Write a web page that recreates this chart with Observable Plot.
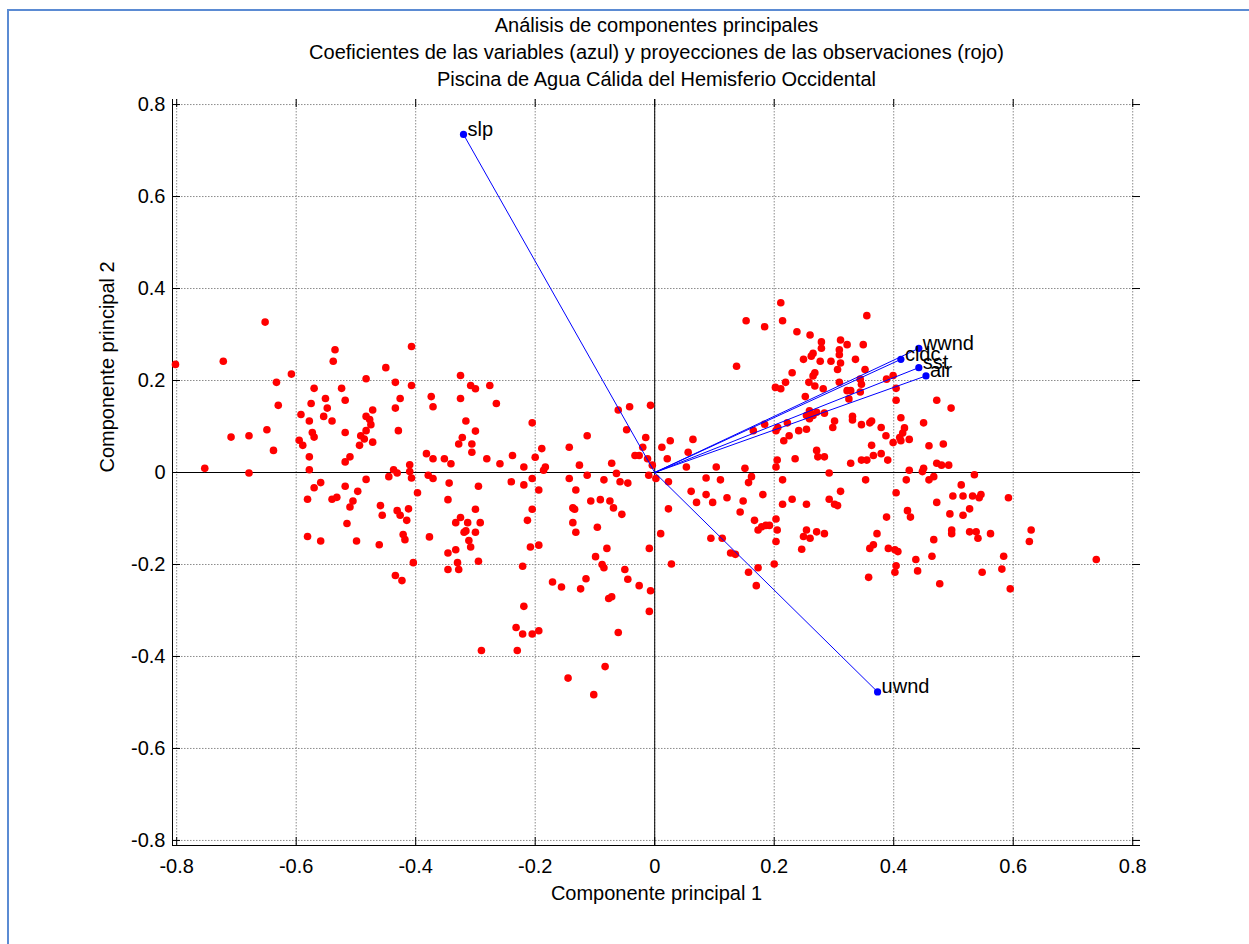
<!DOCTYPE html>
<html>
<head>
<meta charset="utf-8">
<script src="https://cdn.jsdelivr.net/npm/d3@7"></script>
<script src="https://cdn.jsdelivr.net/npm/@observablehq/plot@0.6"></script>
<style>
  html, body { margin: 0; padding: 0; background: #ffffff; }
  #wrap { position: relative; width: 1249px; height: 944px; overflow: hidden; }
  #border { position: absolute; left: 7px; top: 9px; width: 2000px; height: 2000px;
            border-left: 2px solid #5b8bd3; border-top: 2px solid #5b8bd3; pointer-events: none; }
  svg { display: block; }
</style>
</head>
<body>
<div id="wrap"><div id="border"></div></div>
<script>
// ---- Data ----
const titleLines = [
  "Análisis de componentes principales",
  "Coeficientes de las variables (azul) y proyecciones de las observaciones (rojo)",
  "Piscina de Agua Cálida del Hemisferio Occidental"
];
const xLabel = "Componente principal 1";
const yLabel = "Componente principal 2";
const tickValues = [-0.8, -0.6, -0.4, -0.2, 0, 0.2, 0.4, 0.6, 0.8];

// variable coefficients (blue)
const varNames = ["air", "cldc", "slp", "sst", "uwnd", "wwnd"];
const varPC1 = [0.454, 0.412, -0.320, 0.442, 0.373, 0.442];
const varPC2 = [0.210, 0.246, 0.735, 0.228, -0.477, 0.270];

// observation projections (red) [PC1, PC2]
const obsPC = [
[-0.802,0.235],[-0.652,0.327],[-0.722,0.242],[-0.608,0.214],[-0.633,0.196],[-0.630,0.146],[-0.649,0.093],[-0.709,0.077],[-0.679,0.080],[-0.638,0.048],[-0.753,0.009],[-0.679,-0.001],[-0.535,0.267],[-0.538,0.242],[-0.407,0.274],[-0.450,0.228],[-0.483,0.204],[-0.434,0.196],[-0.407,0.189],[-0.570,0.183],[-0.524,0.183],[-0.551,0.161],[-0.518,0.157],[-0.426,0.161],[-0.575,0.150],[-0.548,0.140],[-0.434,0.140],[-0.472,0.136],[-0.592,0.126],[-0.554,0.122],[-0.483,0.122],[-0.477,0.115],[-0.578,0.112],[-0.540,0.112],[-0.475,0.104],[-0.483,0.091],[-0.429,0.091],[-0.573,0.087],[-0.518,0.087],[-0.492,0.080],[-0.570,0.077],[-0.486,0.073],[-0.595,0.070],[-0.472,0.066],[-0.589,0.059],[-0.494,0.059],[-0.578,0.034],[-0.510,0.034],[-0.518,0.023],[-0.578,0.006],[-0.410,0.017],[-0.437,0.006],[-0.431,-0.001],[-0.410,0.002],[-0.445,-0.009],[-0.407,-0.012],[-0.483,-0.015],[-0.559,-0.022],[-0.570,-0.033],[-0.518,-0.030],[-0.497,-0.041],[-0.397,-0.044],[-0.581,-0.058],[-0.540,-0.058],[-0.532,-0.054],[-0.505,-0.062],[-0.510,-0.075],[-0.459,-0.072],[-0.456,-0.093],[-0.431,-0.083],[-0.426,-0.093],[-0.412,-0.079],[-0.415,-0.104],[-0.515,-0.111],[-0.581,-0.139],[-0.559,-0.149],[-0.499,-0.149],[-0.461,-0.157],[-0.421,-0.135],[-0.418,-0.146],[-0.404,-0.196],[-0.434,-0.224],[-0.423,-0.235],
[-0.374,0.165],[-0.371,0.143],[-0.325,0.211],[-0.308,0.189],[-0.300,0.182],[-0.276,0.189],[-0.325,0.161],[-0.265,0.150],[-0.316,0.112],[-0.300,0.090],[-0.322,0.076],[-0.328,0.062],[-0.306,0.062],[-0.306,0.044],[-0.382,0.041],[-0.371,0.030],[-0.352,0.030],[-0.341,0.019],[-0.281,0.030],[-0.259,0.019],[-0.238,0.037],[-0.219,0.012],[-0.205,0.108],[-0.189,0.052],[-0.200,0.033],[-0.183,0.012],[-0.186,0.005],[-0.379,-0.006],[-0.371,-0.013],[-0.344,-0.023],[-0.295,-0.030],[-0.240,-0.020],[-0.219,-0.027],[-0.205,-0.013],[-0.194,-0.038],[-0.346,-0.059],[-0.300,-0.080],[-0.325,-0.098],[-0.333,-0.109],[-0.313,-0.109],[-0.292,-0.109],[-0.316,-0.127],[-0.319,-0.130],[-0.300,-0.130],[-0.311,-0.148],[-0.308,-0.162],[-0.333,-0.168],[-0.346,-0.175],[-0.377,-0.140],[-0.330,-0.196],[-0.346,-0.211],[-0.328,-0.211],[-0.295,-0.193],[-0.205,-0.080],[-0.213,-0.104],[-0.208,-0.162],[-0.194,-0.158],[-0.221,-0.204],[-0.219,-0.291],[-0.232,-0.337],[-0.221,-0.351],[-0.205,-0.351],[-0.194,-0.344],[-0.230,-0.387],[-0.290,-0.387],[-0.143,0.055],[-0.113,0.080],[-0.126,0.016],[-0.113,-0.006],[-0.143,-0.013],[-0.132,-0.038],[-0.085,-0.016],[-0.072,0.020],[-0.064,-0.002],[-0.058,-0.020],[-0.045,-0.023],[-0.061,0.136],[-0.042,0.143],[-0.007,0.146],[-0.047,0.093],[-0.015,0.076],[-0.020,0.055],[-0.033,0.037],[-0.026,0.037],[-0.012,0.030],[-0.004,0.016],[-0.010,-0.006],[0.002,-0.013],[-0.107,-0.062],[-0.091,-0.059],[-0.075,-0.062],[-0.069,-0.077],[-0.055,-0.091],[-0.137,-0.077],[-0.134,-0.080],[-0.137,-0.109],[-0.132,-0.130],[-0.096,-0.119],[-0.080,-0.165],[-0.099,-0.183],[-0.088,-0.200],[-0.085,-0.207],[-0.050,-0.211],[-0.045,-0.232],[-0.026,-0.246],[-0.007,-0.257],[-0.009,-0.165],[-0.009,-0.302],[0.010,-0.133],[-0.171,-0.238],[-0.156,-0.249],[-0.124,-0.253],[-0.115,-0.231],[-0.077,-0.274],[-0.072,-0.270],[-0.061,-0.348],[-0.083,-0.422],[-0.145,-0.447],[-0.102,-0.483],
[0.211,0.369],[0.214,0.330],[0.153,0.330],[0.184,0.317],[0.355,0.341],[0.238,0.306],[0.260,0.299],[0.279,0.284],[0.311,0.288],[0.322,0.278],[0.349,0.278],[0.279,0.270],[0.309,0.267],[0.309,0.256],[0.265,0.259],[0.262,0.253],[0.249,0.246],[0.277,0.242],[0.295,0.242],[0.311,0.238],[0.336,0.246],[0.137,0.231],[0.306,0.224],[0.352,0.224],[0.230,0.217],[0.268,0.217],[0.265,0.210],[0.258,0.196],[0.268,0.188],[0.219,0.196],[0.202,0.185],[0.211,0.182],[0.282,0.182],[0.309,0.196],[0.344,0.203],[0.346,0.192],[0.322,0.178],[0.328,0.178],[0.344,0.175],[0.325,0.160],[0.388,0.203],[0.252,0.165],[0.259,0.134],[0.254,0.124],[0.265,0.124],[0.259,0.117],[0.271,0.131],[0.284,0.129],[0.331,0.122],[0.331,0.114],[0.301,0.112],[0.298,0.098],[0.346,0.104],[0.360,0.108],[0.363,0.112],[0.379,0.098],[0.387,0.080],[0.363,0.059],[0.184,0.105],[0.222,0.108],[0.206,0.098],[0.203,0.091],[0.165,0.091],[0.241,0.091],[0.254,0.094],[0.225,0.080],[0.216,0.069],[0.271,0.048],[0.273,0.034],[0.284,0.034],[0.235,0.030],[0.328,0.020],[0.346,0.027],[0.355,0.027],[0.366,0.037],[0.379,0.041],[0.390,0.027],[0.205,0.027],[0.203,0.012],[0.151,0.009],[0.103,0.012],[0.053,0.012],[0.056,0.044],[0.021,0.030],[0.012,0.055],[0.026,0.069],[0.064,0.072],[0.023,-0.020],[0.086,-0.012],[0.110,-0.016],[0.157,-0.022],[0.162,-0.009],[0.214,-0.016],[0.292,-0.001],[0.353,-0.016],[0.061,-0.041],[0.086,-0.048],[0.070,-0.065],[0.097,-0.065],[0.121,-0.055],[0.148,-0.062],[0.181,-0.048],[0.230,-0.058],[0.254,-0.069],[0.292,-0.058],[0.301,-0.069],[0.306,-0.072],[0.311,-0.041],[0.214,-0.069],[0.023,-0.079],[0.143,-0.086],[0.167,-0.104],[0.173,-0.125],[0.179,-0.118],[0.186,-0.115],[0.192,-0.115],[0.203,-0.101],[0.205,-0.125],[0.203,-0.150],[0.254,-0.125],[0.271,-0.129],[0.284,-0.133],[0.249,-0.139],[0.260,-0.143],[0.246,-0.167],[0.094,-0.143],[0.113,-0.143],[0.127,-0.175],[0.135,-0.178],[0.028,-0.199],[0.173,-0.207],[0.157,-0.217],[0.200,-0.199],[0.170,-0.246],[0.388,-0.097],[0.372,-0.133],[0.366,-0.157],[0.360,-0.165],[0.391,-0.165],[0.358,-0.228],
[0.399,0.211],[0.404,0.183],[0.404,0.157],[0.472,0.157],[0.496,0.140],[0.450,0.108],[0.412,0.119],[0.418,0.097],[0.410,0.076],[0.412,0.069],[0.426,0.072],[0.399,0.065],[0.415,0.086],[0.459,0.058],[0.483,0.062],[0.426,0.005],[0.448,0.002],[0.450,0.009],[0.472,0.020],[0.480,0.016],[0.492,0.016],[0.421,-0.016],[0.459,-0.016],[0.467,-0.009],[0.535,-0.005],[0.513,-0.027],[0.404,-0.044],[0.499,-0.051],[0.516,-0.051],[0.532,-0.051],[0.543,-0.055],[0.546,-0.048],[0.592,-0.055],[0.472,-0.065],[0.423,-0.083],[0.428,-0.097],[0.494,-0.090],[0.516,-0.093],[0.527,-0.079],[0.497,-0.125],[0.497,-0.133],[0.527,-0.129],[0.538,-0.129],[0.541,-0.143],[0.562,-0.133],[0.467,-0.146],[0.402,-0.168],[0.407,-0.172],[0.464,-0.182],[0.437,-0.189],[0.584,-0.182],[0.630,-0.125],[0.627,-0.150],[0.739,-0.189],[0.404,-0.203],[0.402,-0.217],[0.440,-0.214],[0.548,-0.217],[0.581,-0.210],[0.477,-0.242],[0.595,-0.253]
];

// ---- Build tables ----
const vars = varNames.map((n, i) => ({name: n, x: varPC1[i], y: varPC2[i]}));
const obs = obsPC.map(([x, y]) => ({x, y}));

const fmt = d => Math.abs(d) < 1e-9 ? "0" : d.toFixed(1);
const FONT = "'Liberation Sans', Arial, Helvetica, sans-serif";

const xDomain = [-0.807, 0.813];
const yDomain = [-0.811, 0.811];
const frameW = 1249 - 172 - 109;
const frameH = 944 - 99 - 99;
const TL = 8; // tick length (px)

const chart = Plot.plot({
  width: 1249,
  height: 944,
  marginLeft: 172,
  marginRight: 109,
  marginTop: 99,
  marginBottom: 99,
  style: {fontFamily: FONT, fontSize: "20px", color: "#000", background: "#fff"},
  x: {domain: xDomain, ticks: tickValues},
  y: {domain: yDomain, ticks: tickValues},
  marks: [
    // grid
    Plot.gridX(tickValues, {stroke: "#8c8c8c", strokeOpacity: 1, strokeDasharray: "1.5,1.5", strokeWidth: 1}),
    Plot.gridY(tickValues, {stroke: "#8c8c8c", strokeOpacity: 1, strokeDasharray: "1.5,1.5", strokeWidth: 1}),
    // inward ticks on all four sides
    Plot.tickX(tickValues, {x: d => d, insetTop: frameH - TL, stroke: "#000"}),
    Plot.tickX(tickValues, {x: d => d, insetBottom: frameH - TL, stroke: "#000"}),
    Plot.tickY(tickValues, {y: d => d, insetRight: frameW - TL, stroke: "#000"}),
    Plot.tickY(tickValues, {y: d => d, insetLeft: frameW - TL, stroke: "#000"}),
    // axis lines (left and bottom)
    Plot.ruleX([xDomain[0]], {stroke: "#000"}),
    Plot.ruleY([yDomain[0]], {stroke: "#000"}),
    // tick labels
    Plot.axisX(tickValues, {tickSize: 0, tickPadding: 13, tickFormat: fmt, fontSize: 20, label: null}),
    Plot.axisY(tickValues, {tickSize: 0, tickPadding: 7, tickFormat: fmt, fontSize: 20, label: null}),
    // crosshair through origin
    Plot.ruleX([0], {stroke: "#000", strokeWidth: 1}),
    Plot.ruleY([0], {stroke: "#000", strokeWidth: 1}),
    // observations
    Plot.dot(obs, {x: "x", y: "y", r: 3.8, fill: "#ff0000", stroke: "none"}),
    // variable vectors
    Plot.link(vars, {x1: () => 0, y1: () => 0, x2: "x", y2: "y", stroke: "#0000ff", strokeWidth: 1}),
    Plot.dot(vars, {x: "x", y: "y", r: 3.6, fill: "#0000ff", stroke: "none"}),
    Plot.text(vars, {x: "x", y: "y", text: "name", textAnchor: "start", lineAnchor: "middle", dx: 4, dy: -5, fontSize: 20, fill: "#000"}),
    // titles
    Plot.text([titleLines.join("\n")], {frameAnchor: "top", lineAnchor: "bottom", lineHeight: 1.335, dy: -14, fontSize: 20, fill: "#000"}),
    // axis labels
    Plot.text([xLabel], {frameAnchor: "bottom", lineAnchor: "bottom", dy: 54, fontSize: 20, fill: "#000"}),
    Plot.text([yLabel], {frameAnchor: "left", lineAnchor: "bottom", rotate: -90, dx: -59, fontSize: 20, fill: "#000"})
  ]
});

document.getElementById("wrap").insertBefore(chart, document.getElementById("border"));
</script>
</body>
</html>
